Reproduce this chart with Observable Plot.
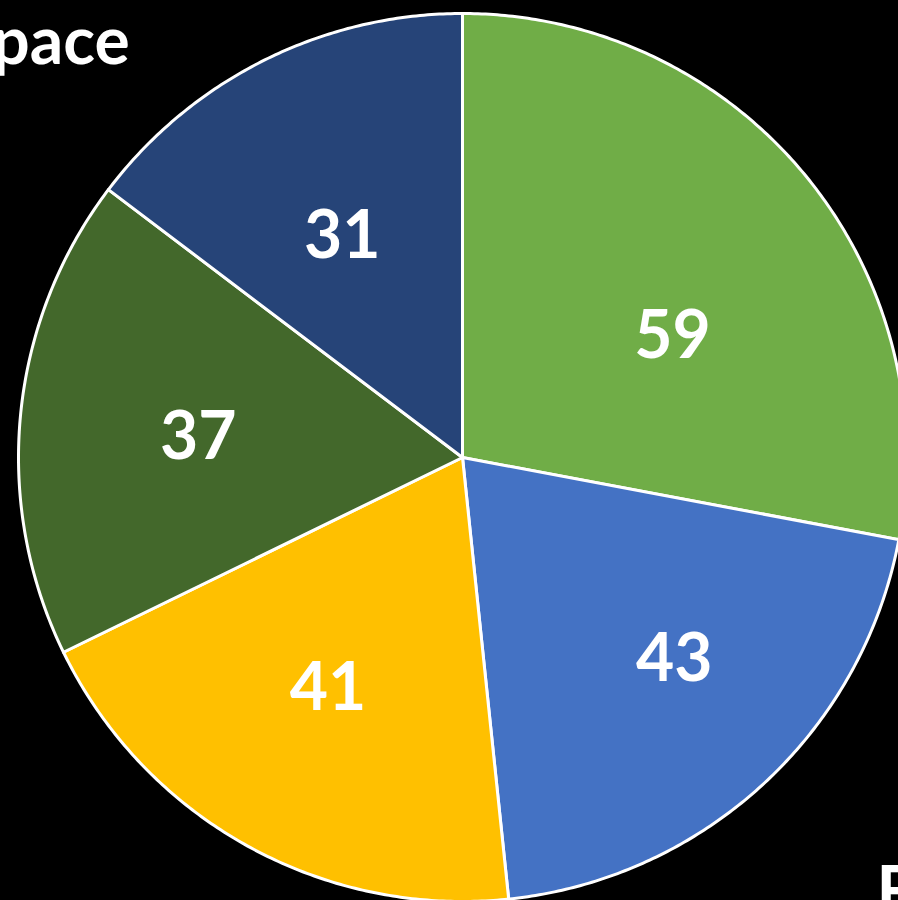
<!DOCTYPE html>
<html><head><meta charset="utf-8">
<script src="https://cdn.jsdelivr.net/npm/d3@7"></script>
<script src="https://cdn.jsdelivr.net/npm/@observablehq/plot@0.6"></script>
<style>html,body{margin:0;padding:0;background:#000;overflow:hidden}</style>
</head><body><div id="chart"></div>
<script>
// data
const categories = ["Segment 1", "F", "Segment 3", "Segment 4", "Space"];
const values = [59, 43, 41, 37, 31];
const colors = ["#70AD47", "#4472C4", "#FFC000", "#43682B", "#264478"];

// layout (label nudges: angle offset from slice middle in degrees, radius in pie radii)
const labelNudge = [[9.85, 0.545], [-3.7, 0.659], [1.2, 0.602], [-1.3, 0.597], [-2.2, 0.565]];

const rows = categories.map((c, i) => ({category: c, value: values[i]}));
const arcs = d3.pie().sort(null).value(d => d.value)(rows);

// slice polygons (unit radius, y grows downward, angle 0 at 12 o'clock, clockwise)
const pts = [];
for (const a of arcs) {
  const c = a.data.category;
  pts.push({category: c, x: 0, y: 0});
  const n = Math.max(8, Math.ceil((a.endAngle - a.startAngle) / (Math.PI / 360)));
  for (let k = 0; k <= n; k++) {
    const t = a.startAngle + (a.endAngle - a.startAngle) * k / n;
    pts.push({category: c, x: Math.sin(t), y: -Math.cos(t)});
  }
  pts.push({category: c, x: 0, y: 0});
}

const valueLabels = arcs.map((a, i) => {
  const m = (a.startAngle + a.endAngle) / 2 + labelNudge[i][0] * Math.PI / 180;
  const r = labelNudge[i][1];
  return {text: String(a.data.value), x: r * Math.sin(m), y: -r * Math.cos(m)};
});

// outer category label placement (polar: degrees, radius in pie radii)
const placement = {"Space": [321.26, 1.198, "end"], "F": [136.42, 1.3525, "start"]};
const outer = Object.entries(placement).map(([c, [deg, r, anchor]]) => {
  const t = deg * Math.PI / 180;
  return {text: c, x: r * Math.sin(t), y: -r * Math.cos(t), anchor};
});

const R = 444, W = 898, H = 900, cx = 462, cy = 457;
const font = {fill: "white", fontSize: 66, fontWeight: "bold", fontFamily: "Lato"};
const chart = Plot.plot({
  width: W, height: H, margin: 0,
  style: {background: "#000", overflow: "visible"},
  x: {domain: [-cx / R, (W - cx) / R], range: [0, W], axis: null},
  y: {domain: [-cy / R, (H - cy) / R], range: [0, H], axis: null},
  color: {domain: categories, range: colors},
  marks: [
    Plot.line(pts, {x: "x", y: "y", z: "category", fill: "category", stroke: "white", strokeWidth: 3, strokeLinejoin: "round"}),
    Plot.text(valueLabels, {x: "x", y: "y", text: "text", ...font}),
    Plot.text(outer.filter(d => d.anchor === "end"), {x: "x", y: "y", text: "text", textAnchor: "end", ...font}),
    Plot.text(outer.filter(d => d.anchor === "start"), {x: "x", y: "y", text: "text", textAnchor: "start", ...font})
  ]
});
document.getElementById("chart").appendChild(chart);
</script>
</body></html>
